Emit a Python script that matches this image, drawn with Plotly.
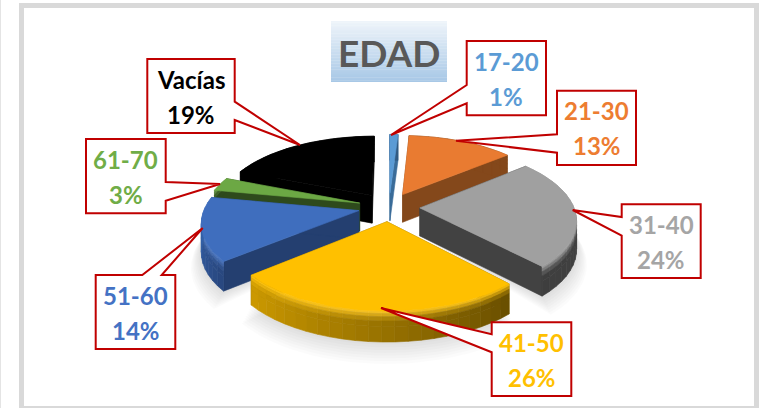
import math
import plotly.graph_objects as go

# ---- data ----
labels = ["17-20", "21-30", "31-40", "41-50", "51-60", "61-70", "Vacías"]
values = [1, 13, 24, 26, 14, 3, 19]
label_colors = ["#5B9BD5", "#ED7D31", "#A5A5A5", "#FFC000", "#4472C4", "#70AD47", "#000000"]
top_colors = ["#5B9BD5", "#E97B31", "#A0A0A0", "#FFC000", "#3F6EBE", "#6CA844", "#000000"]
side_colors = ["#3A6C99", "#84481B", "#424242", "#8A6A00", "#243F70", "#2E4A1C", "#000000"]
wall_start = [(50, 90, 130), (132, 72, 27), (70, 70, 70), (104, 78, 0), (40, 70, 125), (46, 74, 28), (0, 0, 0)]
wall_end = [(50, 90, 130), (132, 72, 27), (62, 62, 62), (205, 154, 0), (58, 108, 186), (46, 74, 28), (0, 0, 0)]
draw_order = [6, 0, 1, 5, 4, 2, 3]

# callout geometry, in page pixels: box (x0, x1, y0, y1), leader base side and tip
callouts = {
    "17-20": ((466.7, 546, 41, 115.3), "L", (85, 103.3), (391, 135)),
    "21-30": ((557, 636, 90.7, 165), "L", (134.3, 152.7), (456, 140.7)),
    "31-40": ((621.7, 700.7, 204.3, 278), "L", (217, 235.7), (572.7, 210)),
    "41-50": ((491.7, 571.3, 322.3, 396), "L", (334.3, 352.3), (381, 308)),
    "51-60": ((95.7, 175.3, 275, 349), "T", (142.3, 161.7), (202.7, 228)),
    "61-70": ((86, 165.7, 139, 213.3), "R", (182, 200.7), (220, 184)),
    "Vacías": ((147.3, 234.7, 59, 133), "R", (101.7, 120), (300, 145)),
}

# ---- projection of the tilted pie ----
CX, CY, R, RY, K, H, EXPLODE = 389, 207, 154, 71.3, 0.149, 28, 0.2


def project(X, Y, Z=0.0):
    s = 1 / (1 + K * Y)
    return CX + R * X * s, CY - RY * Y * s + H * Z * math.sqrt(s)


def mix(a, b, t):
    return tuple(a[i] + (b[i] - a[i]) * t for i in range(3))


def rgb(hex_color):
    return tuple(int(hex_color[i:i + 2], 16) for i in (1, 3, 5))


def css(c):
    return "rgb(%d,%d,%d)" % tuple(round(v) for v in c)


def poly(pts, color, width=0.6):
    xs = [p[0] for p in pts] + [pts[0][0]]
    ys = [p[1] for p in pts] + [pts[0][1]]
    return go.Scatter(x=xs, y=ys, mode="lines", fill="toself", fillcolor=color,
                      line=dict(color=color, width=width), hoverinfo="skip", showlegend=False)


fig = go.Figure()
total = sum(values)
slices = []
cum = 0
for v in values:
    a0 = cum / total * 360
    cum += v
    a1 = cum / total * 360
    slices.append((a0, a1))


def rim(i, r, a):
    a0, a1 = slices[i]
    m = math.radians((a0 + a1) / 2)
    t = math.radians(a)
    return EXPLODE * math.sin(m) + r * math.sin(t), EXPLODE * math.cos(m) + r * math.cos(t)


def angles(i, n):
    a0, a1 = slices[i]
    return [a0 + (a1 - a0) * j / n for j in range(n + 1)]


# soft shadow under the nearest slices
for i in (2, 3, 4):
    for layer in range(8, 0, -1):
        r, z = 1 + 0.008 * layer, 1 + 0.06 * layer
        pts = [project(*rim(i, r, a), z) for a in angles(i, 30)]
        pts.append(project(*rim(i, 0, 0), 1.0))
        fig.add_trace(poly(pts, "rgba(0,0,0,0.016)", 0))

rows = [0.0, 0.08, 0.18, 0.32, 0.5, 1.0]
for i in draw_order:
    a0, a1 = slices[i]
    apex = rim(i, 0, 0)
    top = rgb(top_colors[i])
    # radial side faces
    for a in (a0, a1):
        e = rim(i, 1, a)
        fig.add_trace(poly([project(*apex, 0), project(*e, 0), project(*e, 1), project(*apex, 1)], side_colors[i]))
    # outer wall with rounded shading, split into strips
    n = max(2, int((a1 - a0) / 4))
    aa = angles(i, n)
    near = 45 < (a0 + a1) / 2 < 300
    for j in range(n):
        t = (j + 0.5) / n
        wall = mix(wall_start[i], wall_end[i], t)
        for q in range(len(rows) - 1):
            mid = (rows[q] + rows[q + 1]) / 2
            if near and mid < 0.32:
                light = mix(top, (255, 255, 255), 0.10 * (1 - abs(2 * t - 1)) + 0.06)
                color = mix(light, wall, mid / 0.32)
            else:
                color = wall
            p, r = rim(i, 1, aa[j]), rim(i, 1, aa[j + 1])
            fig.add_trace(poly([project(*p, rows[q]), project(*r, rows[q]),
                                project(*r, rows[q + 1]), project(*p, rows[q + 1])], css(color)))
    # top face
    pts = [project(*apex)] + [project(*rim(i, 1, a)) for a in angles(i, 48)]
    fig.add_trace(poly(pts, top_colors[i]))

# ---- frame, title and callouts ----
shapes = [
    dict(type="rect", x0=21.5, x1=756.5, y0=5.5, y1=408.5, line=dict(color="#D9D9D9", width=5), fillcolor="rgba(0,0,0,0)"),
    dict(type="line", x0=0.5, x1=0.5, y0=0, y1=408, line=dict(color="#E4E4E4", width=1)),
]
n_grad = 40
T0, T1, TX0, TX1 = 21, 81.7, 331, 447
for j in range(n_grad):
    c = mix((238, 244, 250), (168, 200, 230), j / (n_grad - 1))
    shapes.append(dict(type="rect", x0=TX0, x1=TX1, y0=T0 + (T1 - T0) * j / n_grad,
                       y1=T0 + (T1 - T0) * (j + 1) / n_grad + 0.3, line=dict(width=0), fillcolor=css(c), layer="below"))

annotations = [dict(x=(TX0 + TX1) / 2, y=(T0 + T1) / 2 + 1, text="<b>EDAD</b>", showarrow=False,
                    font=dict(family="Lato", size=37, color="#595959"))]

for name, value, color in zip(labels, values, label_colors):
    (x0, x1, y0, y1), side, (b0, b1), (tx, ty) = callouts[name]
    if side == "L":
        pts = [(x0, y0), (x1, y0), (x1, y1), (x0, y1), (x0, b1), (tx, ty), (x0, b0)]
    elif side == "R":
        pts = [(x0, y0), (x1, y0), (x1, b0), (tx, ty), (x1, b1), (x1, y1), (x0, y1)]
    else:
        pts = [(x0, y0), (b0, y0), (tx, ty), (b1, y0), (x1, y0), (x1, y1), (x0, y1)]
    path = "M" + " L".join("%.1f,%.1f" % p for p in pts) + " Z"
    shapes.append(dict(type="path", path=path, fillcolor="white", line=dict(color="#C00000", width=2)))
    xc, yc = (x0 + x1) / 2, (y0 + y1) / 2
    annotations.append(dict(x=xc, y=yc - 17, text="<b>%s</b>" % name, showarrow=False,
                            font=dict(family="Lato", size=24, color=color)))
    annotations.append(dict(x=xc, y=yc + 18, text="<b>%d%%</b>" % value, showarrow=False,
                            font=dict(family="Lato", size=24, color=color)))

fig.update_layout(
    width=765, height=408, margin=dict(l=0, r=0, t=0, b=0),
    paper_bgcolor="white", plot_bgcolor="white", showlegend=False,
    xaxis=dict(range=[0, 765], visible=False, fixedrange=True),
    yaxis=dict(range=[408, 0], visible=False, fixedrange=True),
    shapes=shapes, annotations=annotations,
)
fig.write_html("out.html", config={"displayModeBar": False},
               post_script="document.body.style.margin='0';")
